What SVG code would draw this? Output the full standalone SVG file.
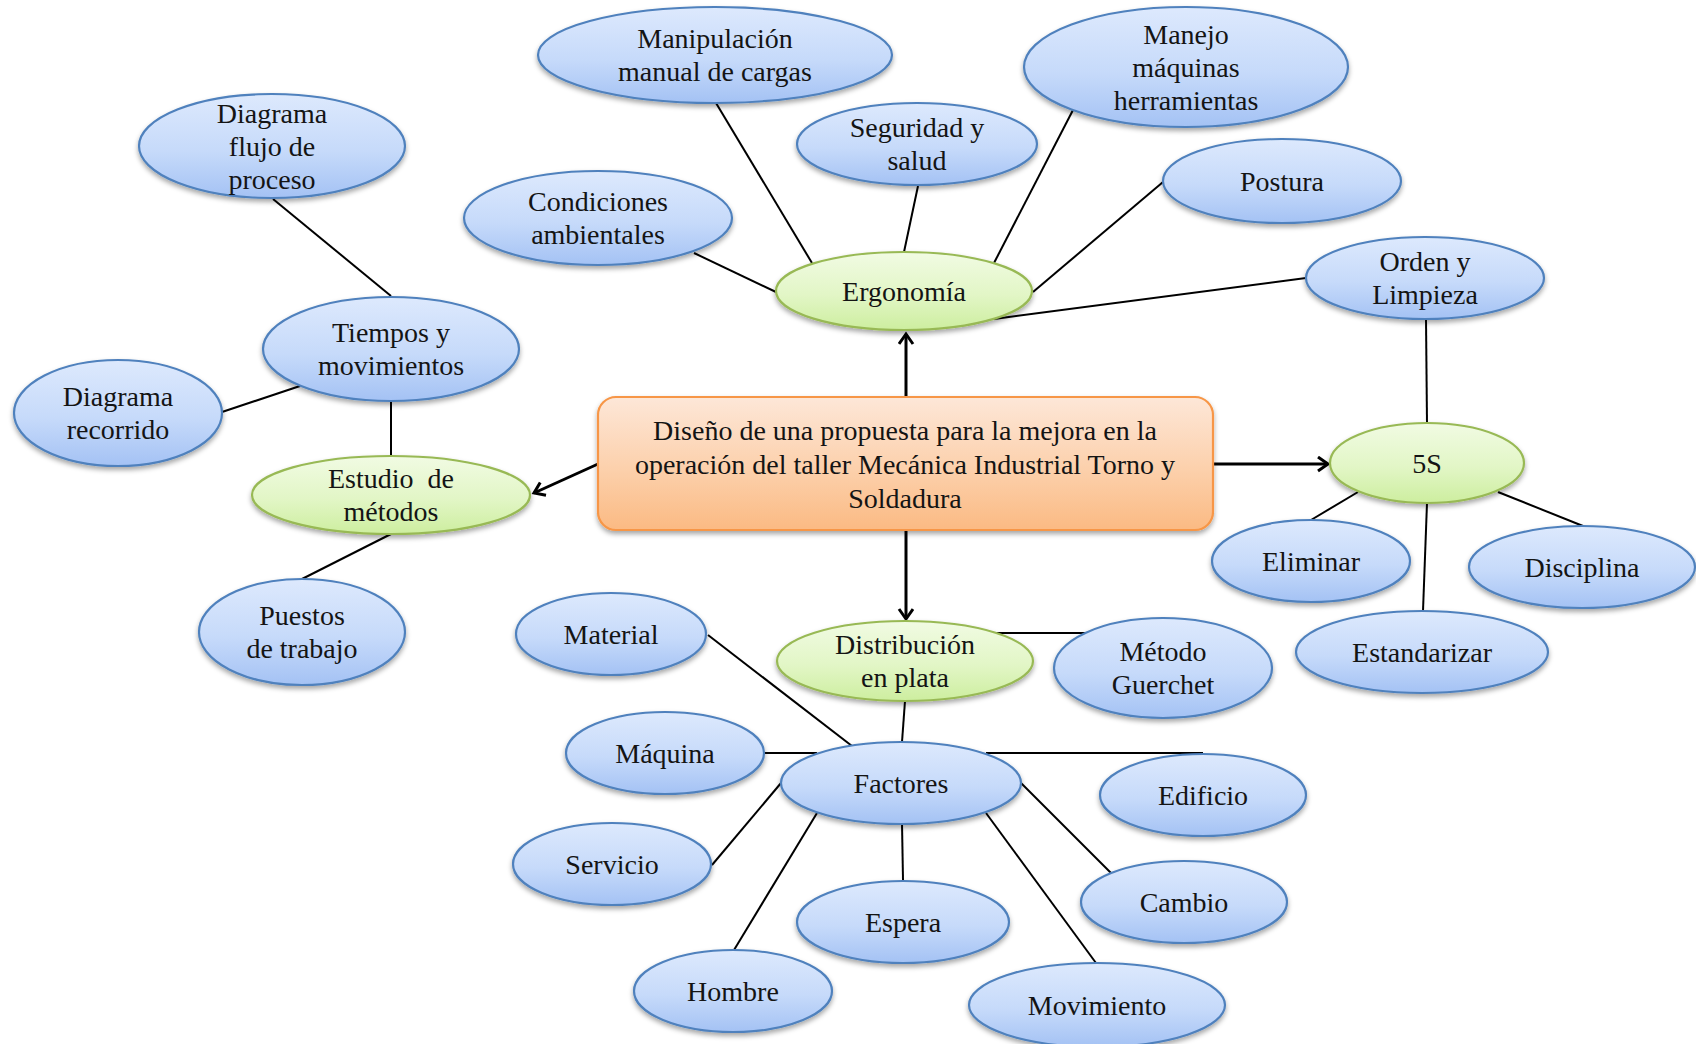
<svg xmlns="http://www.w3.org/2000/svg" width="1696" height="1044" viewBox="0 0 1696 1044">
  <defs>
    <linearGradient id="gBlue" x1="0" y1="0" x2="0" y2="1">
      <stop offset="0" stop-color="#dde9fd"/>
      <stop offset="0.55" stop-color="#c6dafa"/>
      <stop offset="1" stop-color="#a4c2f4"/>
    </linearGradient>
    <linearGradient id="gGreen" x1="0" y1="0" x2="0" y2="1">
      <stop offset="0" stop-color="#f1fbe3"/>
      <stop offset="0.55" stop-color="#e2f6c6"/>
      <stop offset="1" stop-color="#cdee9f"/>
    </linearGradient>
    <linearGradient id="gOrange" x1="0" y1="0" x2="0" y2="1">
      <stop offset="0" stop-color="#fde7d8"/>
      <stop offset="0.55" stop-color="#fcd0ab"/>
      <stop offset="1" stop-color="#fbba83"/>
    </linearGradient>
    <filter id="shadow" x="-10%" y="-15%" width="120%" height="140%">
      <feDropShadow dx="0" dy="3" stdDeviation="2.5" flood-color="#000" flood-opacity="0.35"/>
    </filter>
    <marker id="arrow" markerUnits="userSpaceOnUse" markerWidth="24" markerHeight="24" refX="12" refY="8" orient="auto">
      <path d="M2,1 L12,8 L2,15" fill="none" stroke="#000" stroke-width="3" stroke-linejoin="miter"/>
    </marker>
    <style>
      .blue { fill: url(#gBlue); stroke: #4f81bd; stroke-width: 2.2; filter: url(#shadow); }
      .green { fill: url(#gGreen); stroke: #98b954; stroke-width: 2.2; filter: url(#shadow); }
      .orange { fill: url(#gOrange); stroke: #f79646; stroke-width: 2.2; filter: url(#shadow); }
      .lbl { font-family: "Liberation Serif", "Times New Roman", serif; font-size: 28px; fill: #141414; text-anchor: middle; }
      .link { stroke: #000; stroke-width: 2; fill: none; }
      .arr { stroke: #000; stroke-width: 3; fill: none; marker-end: url(#arrow); }
    </style>
  </defs>

  <rect width="1696" height="1044" fill="#fff"/>

  <!-- connectors -->
  <g id="connectors">
    <!-- main arrows from the central box -->
    <path class="arr" d="M906,397 L906,334"/>
    <path class="arr" d="M1213,464 L1328,464"/>
    <path class="arr" d="M906,530 L906,619"/>
    <path class="arr" d="M598,464 L534,493"/>
    <!-- Ergonomía -->
    <path class="link" d="M716,103 L812,263"/>
    <path class="link" d="M918,186 L904,252"/>
    <path class="link" d="M1073,110 L994,263"/>
    <path class="link" d="M1163,182 L1033,292"/>
    <path class="link" d="M694,253 L776,292"/>
    <path class="link" d="M1306,278 L994,319"/>
    <!-- Estudio de métodos -->
    <path class="link" d="M273,199 L391,296"/>
    <path class="link" d="M222,412 L300,386"/>
    <path class="link" d="M391,401 L391,456"/>
    <path class="link" d="M391,534 L302,579"/>
    <!-- 5S -->
    <path class="link" d="M1426,319 L1427,424"/>
    <path class="link" d="M1358,492 L1311,520"/>
    <path class="link" d="M1498,492 L1583,526"/>
    <path class="link" d="M1427,503 L1423,611"/>
    <!-- Distribución en plata -->
    <path class="link" d="M995,633 L1085,633"/>
    <path class="link" d="M905,701 L902,742"/>
    <!-- Factores -->
    <path class="link" d="M708,635 L852,746"/>
    <path class="link" d="M764,753 L817,753"/>
    <path class="link" d="M986,753 L1203,753"/>
    <path class="link" d="M781,783 L712,865"/>
    <path class="link" d="M817,813 L734,950"/>
    <path class="link" d="M902,823 L903,880"/>
    <path class="link" d="M986,813 L1096,963"/>
    <path class="link" d="M1021,783 L1111,873"/>
  </g>

  <!-- central box -->
  <g id="propuesta">
    <rect class="orange" x="598" y="397" width="615" height="133" rx="18" ry="18"/>
    <text class="lbl" x="905" y="440">Diseño de una propuesta para la mejora en la</text>
    <text class="lbl" x="905" y="474">operación del taller Mecánica Industrial Torno y</text>
    <text class="lbl" x="905" y="508">Soldadura</text>
  </g>

  <!-- second level (green) -->
  <g id="ergonomia">
    <ellipse class="green" cx="904" cy="291" rx="128" ry="39"/>
    <text class="lbl" x="904" y="301">Ergonomía</text>
  </g>
  <g id="estudio-metodos">
    <ellipse class="green" cx="391" cy="495" rx="139" ry="39"/>
    <text class="lbl" x="391" y="488" style="white-space:pre">Estudio  de</text>
    <text class="lbl" x="391" y="521">métodos</text>
  </g>
  <g id="cinco-s">
    <ellipse class="green" cx="1427" cy="463" rx="97" ry="40"/>
    <text class="lbl" x="1427" y="473">5S</text>
  </g>
  <g id="distribucion">
    <ellipse class="green" cx="905" cy="661" rx="128" ry="40"/>
    <text class="lbl" x="905" y="654">Distribución</text>
    <text class="lbl" x="905" y="687">en plata</text>
  </g>

  <!-- Ergonomía topics -->
  <g id="manipulacion">
    <ellipse class="blue" cx="715" cy="55" rx="177" ry="48"/>
    <text class="lbl" x="715" y="48">Manipulación</text>
    <text class="lbl" x="715" y="81">manual de cargas</text>
  </g>
  <g id="manejo">
    <ellipse class="blue" cx="1186" cy="67" rx="162" ry="60"/>
    <text class="lbl" x="1186" y="44">Manejo</text>
    <text class="lbl" x="1186" y="77">máquinas</text>
    <text class="lbl" x="1186" y="110">herramientas</text>
  </g>
  <g id="seguridad">
    <ellipse class="blue" cx="917" cy="144" rx="120" ry="41"/>
    <text class="lbl" x="917" y="137">Seguridad y</text>
    <text class="lbl" x="917" y="170">salud</text>
  </g>
  <g id="condiciones">
    <ellipse class="blue" cx="598" cy="218" rx="134" ry="47"/>
    <text class="lbl" x="598" y="211">Condiciones</text>
    <text class="lbl" x="598" y="244">ambientales</text>
  </g>
  <g id="postura">
    <ellipse class="blue" cx="1282" cy="181" rx="119" ry="42"/>
    <text class="lbl" x="1282" y="191">Postura</text>
  </g>
  <g id="orden-limpieza">
    <ellipse class="blue" cx="1425" cy="278" rx="119" ry="41"/>
    <text class="lbl" x="1425" y="271">Orden y</text>
    <text class="lbl" x="1425" y="304">Limpieza</text>
  </g>

  <!-- Estudio de métodos topics -->
  <g id="flujo-proceso">
    <ellipse class="blue" cx="272" cy="146" rx="133" ry="52"/>
    <text class="lbl" x="272" y="123">Diagrama</text>
    <text class="lbl" x="272" y="156">flujo de</text>
    <text class="lbl" x="272" y="189">proceso</text>
  </g>
  <g id="tiempos">
    <ellipse class="blue" cx="391" cy="349" rx="128" ry="52"/>
    <text class="lbl" x="391" y="342">Tiempos y</text>
    <text class="lbl" x="391" y="375">movimientos</text>
  </g>
  <g id="recorrido">
    <ellipse class="blue" cx="118" cy="413" rx="104" ry="53"/>
    <text class="lbl" x="118" y="406">Diagrama</text>
    <text class="lbl" x="118" y="439">recorrido</text>
  </g>
  <g id="puestos">
    <ellipse class="blue" cx="302" cy="632" rx="103" ry="53"/>
    <text class="lbl" x="302" y="625">Puestos</text>
    <text class="lbl" x="302" y="658">de trabajo</text>
  </g>

  <!-- 5S topics -->
  <g id="eliminar">
    <ellipse class="blue" cx="1311" cy="561" rx="99" ry="41"/>
    <text class="lbl" x="1311" y="571">Eliminar</text>
  </g>
  <g id="disciplina">
    <ellipse class="blue" cx="1582" cy="567" rx="113" ry="41"/>
    <text class="lbl" x="1582" y="577">Disciplina</text>
  </g>
  <g id="estandarizar">
    <ellipse class="blue" cx="1422" cy="652" rx="126" ry="41"/>
    <text class="lbl" x="1422" y="662">Estandarizar</text>
  </g>

  <!-- Distribución en plata topics -->
  <g id="guerchet">
    <ellipse class="blue" cx="1163" cy="668" rx="109" ry="50"/>
    <text class="lbl" x="1163" y="661">Método</text>
    <text class="lbl" x="1163" y="694">Guerchet</text>
  </g>
  <g id="factores">
    <ellipse class="blue" cx="901" cy="783" rx="120" ry="41"/>
    <text class="lbl" x="901" y="793">Factores</text>
  </g>
  <g id="material">
    <ellipse class="blue" cx="611" cy="634" rx="95" ry="41"/>
    <text class="lbl" x="611" y="644">Material</text>
  </g>
  <g id="maquina">
    <ellipse class="blue" cx="665" cy="753" rx="99" ry="41"/>
    <text class="lbl" x="665" y="763">Máquina</text>
  </g>
  <g id="edificio">
    <ellipse class="blue" cx="1203" cy="795" rx="103" ry="41"/>
    <text class="lbl" x="1203" y="805">Edificio</text>
  </g>
  <g id="servicio">
    <ellipse class="blue" cx="612" cy="864" rx="99" ry="41"/>
    <text class="lbl" x="612" y="874">Servicio</text>
  </g>
  <g id="cambio">
    <ellipse class="blue" cx="1184" cy="902" rx="103" ry="41"/>
    <text class="lbl" x="1184" y="912">Cambio</text>
  </g>
  <g id="espera">
    <ellipse class="blue" cx="903" cy="922" rx="106" ry="41"/>
    <text class="lbl" x="903" y="932">Espera</text>
  </g>
  <g id="hombre">
    <ellipse class="blue" cx="733" cy="991" rx="99" ry="41"/>
    <text class="lbl" x="733" y="1001">Hombre</text>
  </g>
  <g id="movimiento">
    <ellipse class="blue" cx="1097" cy="1005" rx="128" ry="42"/>
    <text class="lbl" x="1097" y="1015">Movimiento</text>
  </g>
</svg>
